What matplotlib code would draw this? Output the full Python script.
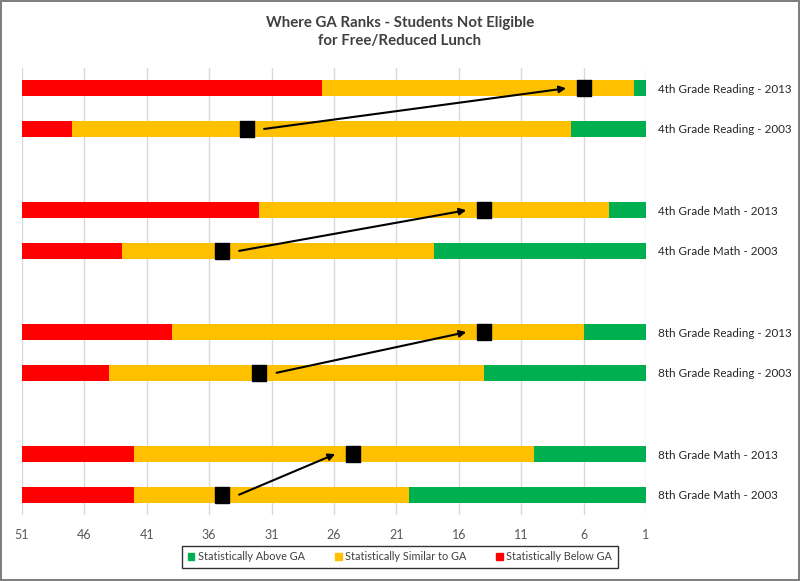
import numpy as np
import matplotlib.pyplot as plt
from matplotlib.patches import Patch

plt.rcParams['font.family'] = ['Lato', 'DejaVu Sans']

# one row per bar, top to bottom
row_labels = ['4th Grade Reading - 2013', '4th Grade Reading - 2003',
              '4th Grade Math - 2013', '4th Grade Math - 2003',
              '8th Grade Reading - 2013', '8th Grade Reading - 2003',
              '8th Grade Math - 2013', '8th Grade Math - 2003']
n_below = [24, 4, 19, 8, 12, 7, 9, 9]
n_similar = [25, 40, 28, 25, 33, 30, 32, 22]
n_above = [1, 6, 3, 17, 5, 13, 9, 19]
ga_rank = [6, 33, 14, 35, 14, 32, 24.5, 35]

x_ticks = [51, 46, 41, 36, 31, 26, 21, 16, 11, 6, 1]

RED, YELLOW, GREEN = '#FF0000', '#FFC000', '#00B050'

# pairs of bars with an empty slot between each subject
y_pos = np.array([0, 1, 3, 4, 6, 7, 9, 10])
below = np.array(n_below)
similar = np.array(n_similar)
above = np.array(n_above)
top = 51

fig = plt.figure(figsize=(8, 5.81), dpi=100)
fig.patch.set_edgecolor('#7F7F7F')
fig.patch.set_linewidth(1.5)
ax = fig.add_axes([22 / 800, 1 - 515 / 581, 624 / 800, 447 / 581])

h = 0.4
ax.barh(y_pos, -below, left=top, height=h, color=RED, zorder=2)
ax.barh(y_pos, -similar, left=top - below, height=h, color=YELLOW, zorder=2)
ax.barh(y_pos, -above, left=top - below - similar, height=h, color=GREEN, zorder=2)

# slightly tall rectangle marker like the original
rect = [(-0.4, -0.5), (0.4, -0.5), (0.4, 0.5), (-0.4, 0.5), (-0.4, -0.5)]
ax.plot(ga_rank, y_pos, linestyle='none', marker=rect, ms=12,
        color='black', zorder=4)

# arrows 2003 -> 2013
for i in range(0, len(y_pos), 2):
    ax.annotate('', xy=(ga_rank[i] + 1.4, y_pos[i]),
                xytext=(ga_rank[i + 1] - 1.4, y_pos[i + 1]),
                arrowprops=dict(arrowstyle='-|>', color='black', lw=1.5,
                                mutation_scale=10, shrinkA=0, shrinkB=0),
                zorder=5)

ax.set_xlim(51, 1)
ax.set_ylim(10.5, -0.5)
ax.set_xticks(x_ticks)
ax.set_xticklabels([str(t) for t in x_ticks])
ax.tick_params(axis='x', length=0, pad=10, labelsize=9, labelcolor='#595959')
ax.grid(axis='x', color='#D9D9D9', lw=1, zorder=0)

ax.yaxis.tick_right()
ax.set_yticks(y_pos)
ax.set_yticklabels(row_labels)
ax.tick_params(axis='y', length=0, pad=9, labelsize=8.4, labelcolor='#262626')

for s in ax.spines.values():
    s.set_visible(False)

fig.text(0.5, 1 - 16 / 581, 'Where GA Ranks - Students Not Eligible\nfor Free/Reduced Lunch',
         ha='center', va='top', fontsize=10.8, fontweight='bold', color='#404040',
         linespacing=1.35)

handles = [Patch(color=GREEN), Patch(color=YELLOW), Patch(color=RED)]
leg = fig.legend(handles, ['Statistically Above GA', 'Statistically Similar to GA',
                           'Statistically Below GA'],
                 loc='center', bbox_to_anchor=(400 / 800, 1 - 557 / 581), ncol=3,
                 fontsize=7.8, frameon=True, fancybox=False, edgecolor='black',
                 handlelength=0.6, handleheight=0.6, handletextpad=0.3,
                 columnspacing=2.8, borderpad=0.55, borderaxespad=0)
leg.get_frame().set_linewidth(1.0)
for t in leg.get_texts():
    t.set_color('#404040')

fig.savefig('out.png', dpi=100, edgecolor=fig.get_edgecolor())
